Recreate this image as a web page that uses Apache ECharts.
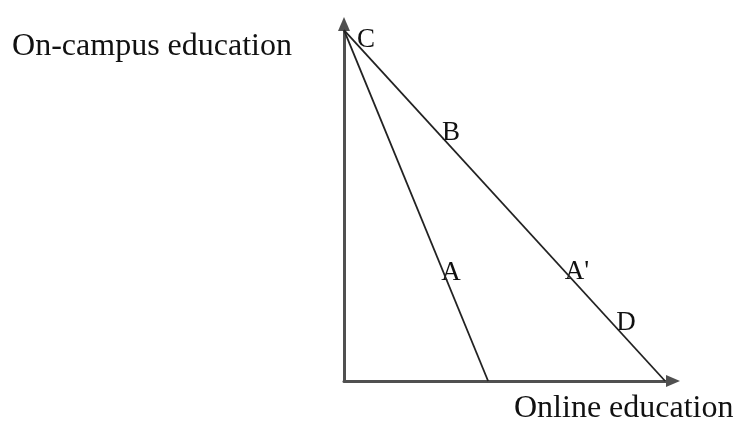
<!DOCTYPE html>
<html>
<head>
<meta charset="utf-8">
<script src="https://cdn.jsdelivr.net/npm/echarts@6/dist/echarts.min.js"></script>
<style>
  html, body { margin: 0; padding: 0; background: #fff; }
  #main { width: 739px; height: 423px; }
</style>
</head>
<body>
<div id="main"></div>
<script>
// axis titles
var xName = 'Online education';
var yName = 'On-campus education';

// budget line C -> online intercept, and the steeper line C -> its intercept
var budgetLine = [[0, 9.83], [9.76, 0]];
var steepLine = [[0, 9.83], [4.38, 0]];

// point labels (name, x, y)
var pointNames = ['C', 'B', 'A', "A'", 'D'];
var pointX = [0.67, 3.25, 3.25, 7.08, 8.57];
var pointY = [9.55, 6.95, 3.03, 3.05, 1.62];

var chart = echarts.init(document.getElementById('main'), null, { renderer: 'canvas' });

var serif = '"Liberation Serif", "DejaVu Serif", serif';

var labelData = pointNames.map(function (n, i) {
  return { name: n, value: [pointX[i], pointY[i]] };
});

var axisColor = '#505050';

var option = {
  backgroundColor: '#ffffff',
  animation: false,
  // x axis title sits under the axis end
  title: {
    text: xName,
    left: 514,
    top: 393,
    padding: 0,
    textStyle: { fontFamily: serif, fontSize: 32, fontWeight: 'normal', color: '#111' }
  },
  grid: { left: 344, right: 66, top: 24, bottom: 42 },
  xAxis: {
    type: 'value',
    min: 0,
    max: 10,
    axisLine: { show: true, symbol: ['none', 'triangle'], symbolSize: [12, 14],
      lineStyle: { color: axisColor, width: 3 } },
    axisTick: { show: false },
    axisLabel: { show: false },
    splitLine: { show: false }
  },
  yAxis: {
    type: 'value',
    min: 0,
    max: 10,
    name: yName,
    nameLocation: 'end',
    nameGap: -23,
    nameTextStyle: {
      fontFamily: serif, fontSize: 32, color: '#111',
      align: 'right', verticalAlign: 'middle', padding: [0, 52, 0, 0]
    },
    axisLine: { show: true, symbol: ['none', 'triangle'], symbolSize: [12, 14],
      lineStyle: { color: axisColor, width: 3 } },
    axisTick: { show: false },
    axisLabel: { show: false },
    splitLine: { show: false }
  },
  series: [
    {
      type: 'line',
      data: budgetLine,
      symbol: 'none',
      silent: true,
      lineStyle: { color: '#222', width: 1.8 }
    },
    {
      type: 'line',
      data: steepLine,
      symbol: 'none',
      silent: true,
      lineStyle: { color: '#222', width: 1.8 }
    },
    {
      type: 'scatter',
      data: labelData,
      symbolSize: 0,
      silent: true,
      itemStyle: { opacity: 1 },
      label: {
        show: true,
        position: 'inside',
        formatter: '{b}',
        fontFamily: serif,
        fontSize: 27,
        color: '#111'
      }
    }
  ]
};

chart.setOption(option);
</script>
</body>
</html>
